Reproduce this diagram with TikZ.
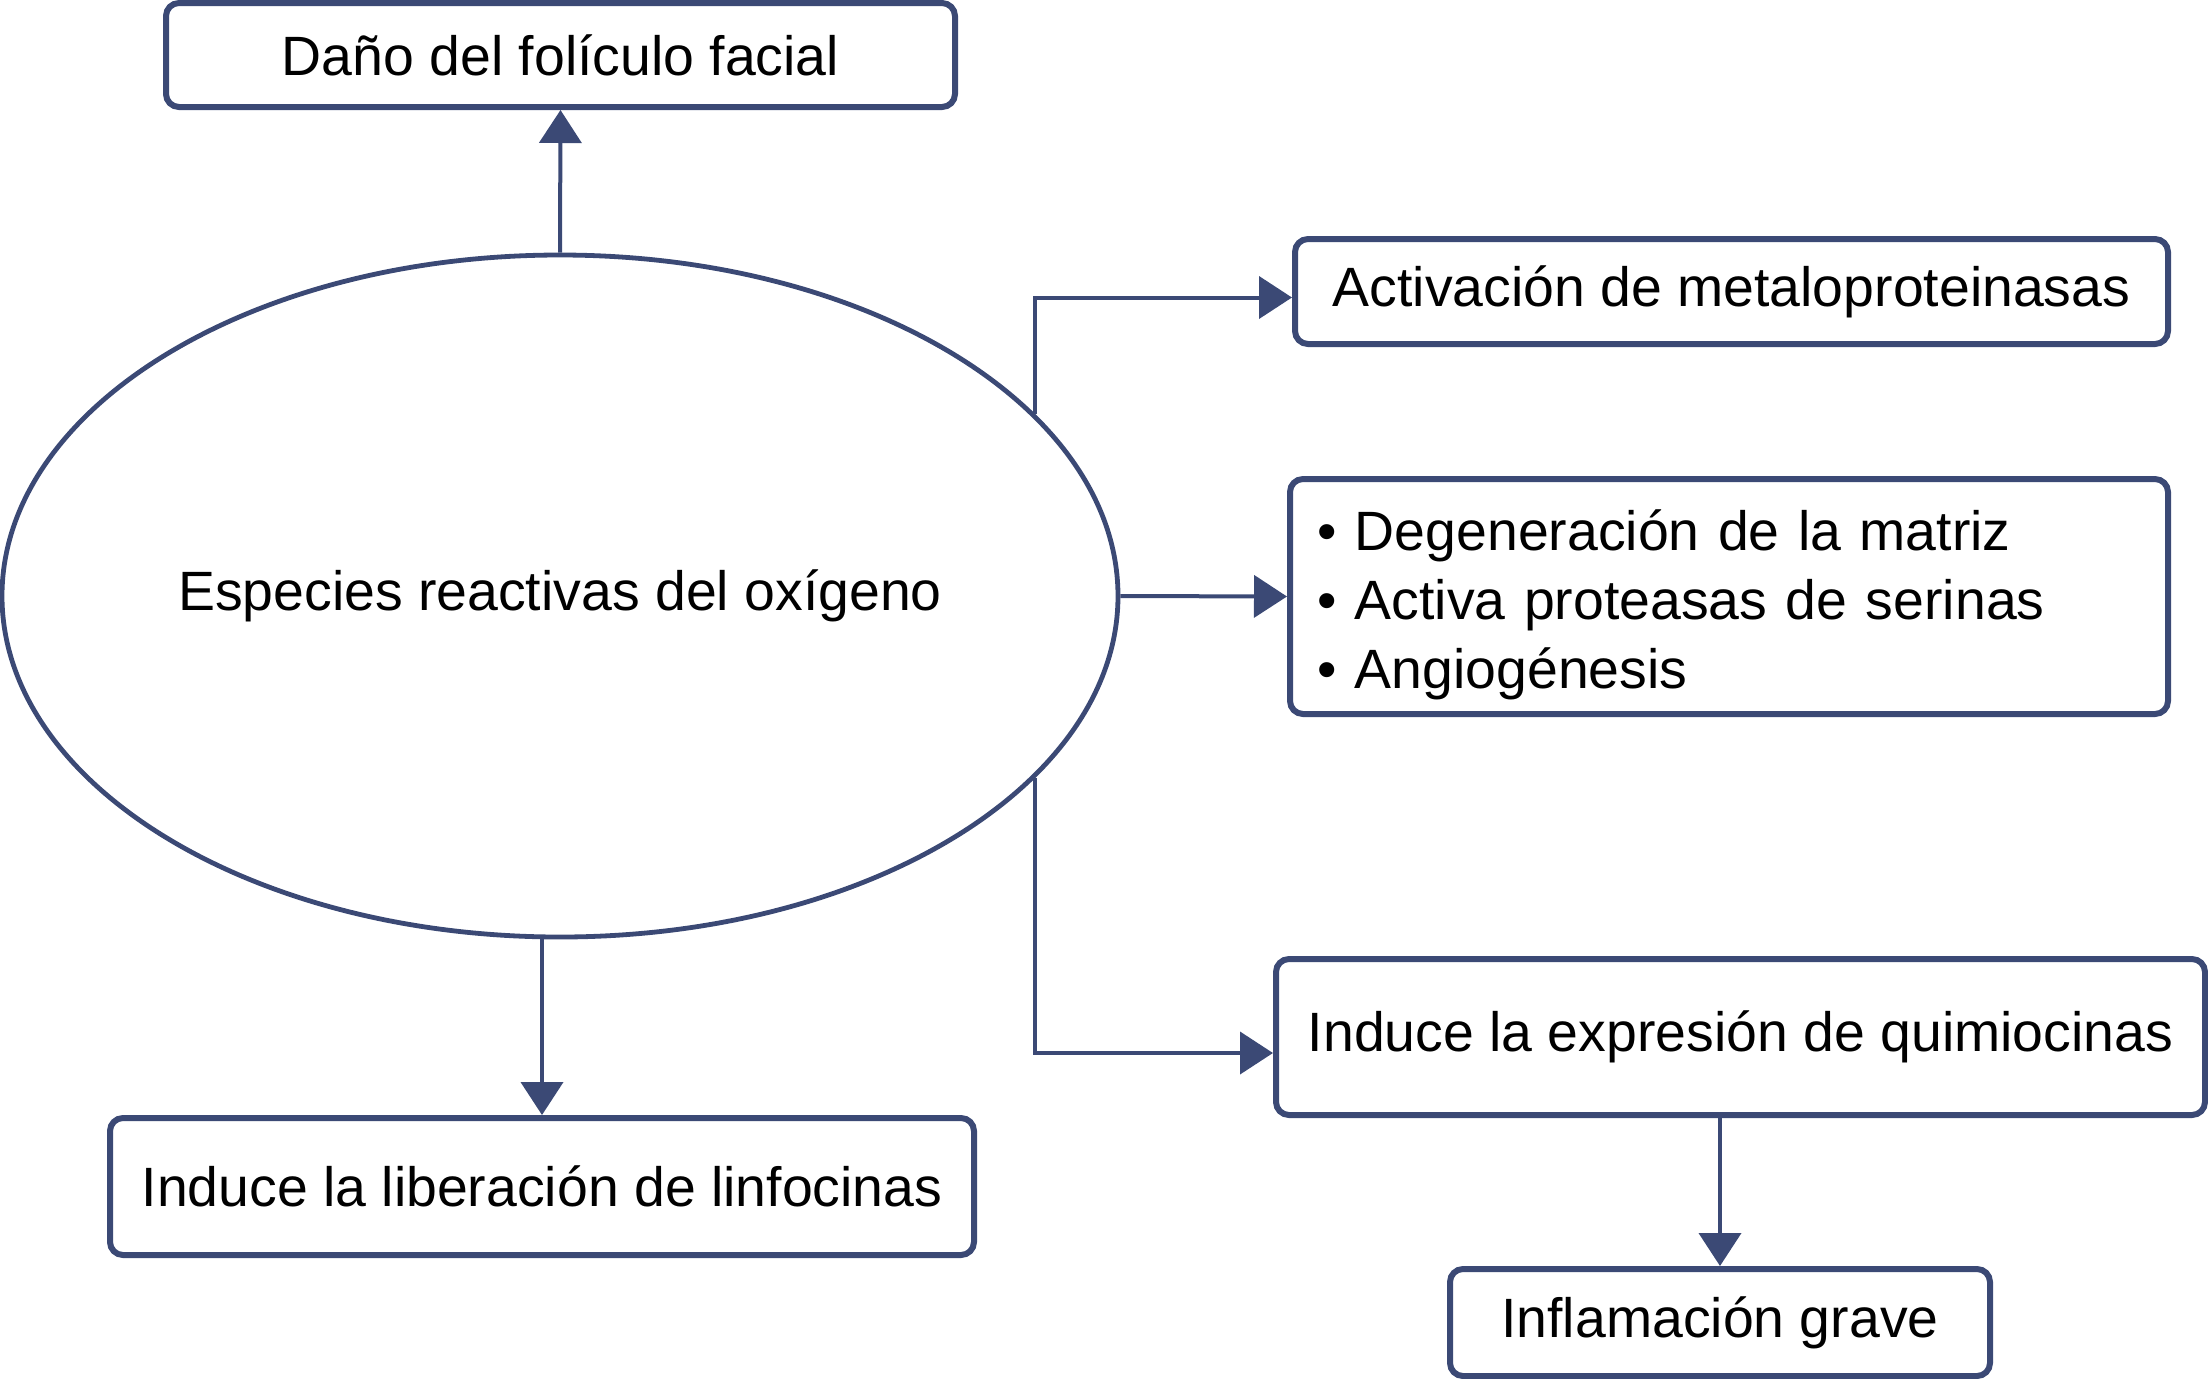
\documentclass[tikz,border=0pt]{standalone}
\usepackage{fontspec}
\setmainfont{Liberation Sans}
\usepackage{tikz}
\usetikzlibrary{shapes.geometric}
\usetikzlibrary{arrows.meta}

\definecolor{navy}{RGB}{59,73,117}

\tikzset{
  caja/.style={draw=navy, line width=3pt, rounded corners=6.5pt, fill=white,
    inner sep=0pt, align=center, font=\fontsize{27.7}{34.5}\selectfont},
  flecha/.style={draw=navy, line width=2pt,
    -{Triangle[length=16.5pt,width=21pt]}},
}

\begin{document}
\begin{tikzpicture}[x=0.5pt,y=0.5pt,yscale=-1,xscale=1]
\useasboundingbox (0,0) rectangle (2208,1378);

%Shape: Ellipse
\node [draw=navy, line width=2.4pt, ellipse, inner sep=0pt,
  minimum width=558pt, minimum height=341pt,
  font=\fontsize{27.7}{34.5}\selectfont] (ros) at (560,596) {Especies reactivas del oxígeno};

% Text Node
\node [caja, minimum width=394.5pt, minimum height=52pt] (dano) at (560.5,55) {Daño del folículo facial};
% Text Node
\node [caja, minimum width=436.5pt, minimum height=52.5pt] (met) at (1731.5,291.5) {Activación de metaloproteinasas};
% Text Node
\node [caja, minimum width=439pt, minimum height=117.5pt, inner xsep=13.5pt,
  text width=412pt, align=left] (deg) at (1729,596.5) {\rule{0pt}{29pt}• Degeneración de la matriz\\• Activa proteasas de serinas\\• Angiogénesis};
% Text Node
\node [caja, minimum width=464.5pt, minimum height=78pt] (qui) at (1740.5,1037) {Induce la expresión de quimiocinas};
% Text Node
\node [caja, minimum width=270pt, minimum height=53.5pt] (inf) at (1720,1322.5) {Inflamación grave};
% Text Node
\node [caja, minimum width=432pt, minimum height=68.5pt] (lin) at (542,1186.5) {Induce la liberación de linfocinas};

%Straight Lines
\draw [flecha] (ros.north) -- (dano.south);
\draw [flecha] (ros.21) |- ([yshift=3pt]met.west);
\draw [flecha] (ros.east) -- (deg.west);
\draw [flecha] (ros.-21) |- ([yshift=8pt]qui.west);
\draw [flecha] (ros.south -| lin.north) -- (lin.north);
\draw [flecha] (qui.south -| inf.north) -- (inf.north);

\end{tikzpicture}
\end{document}
